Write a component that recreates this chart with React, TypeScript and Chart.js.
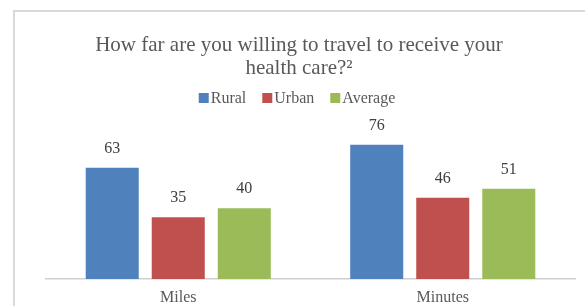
import React, { useEffect, useRef } from "react";
import { Chart, registerables } from "chart.js";

Chart.register(...registerables);

const categories = ["Miles", "Minutes"];
const seriesNames = ["Rural", "Urban", "Average"];
const rural = [63, 76];
const urban = [35, 46];
const average = [40, 51];
const titleLines = ["How far are you willing to travel to receive your", "health care?²"];

const colors = ["#4f81bd", "#c0504d", "#9bbb59"];
const FONT = "'Liberation Serif', 'Times New Roman', serif";
const TEXT = "#595959";

const framePlugin = {
  id: "frame",
  beforeDraw(chart: any) {
    const ctx = chart.ctx;
    ctx.save();
    ctx.fillStyle = "#ffffff";
    ctx.fillRect(0, 0, chart.width, chart.height);
    ctx.strokeStyle = "#d9d9d9";
    ctx.lineWidth = 2;
    ctx.strokeRect(14, 11, chart.width + 100, chart.height + 100);
    ctx.restore();
  },
};

const legendPlugin = {
  id: "customLegend",
  afterDraw(chart: any) {
    const ctx = chart.ctx;
    ctx.save();
    ctx.font = `16px ${FONT}`;
    const box = 10;
    const gapText = 2;
    const gapItem = 16;
    const items = chart.data.datasets.map((ds: any) => ({
      label: ds.label,
      color: ds.backgroundColor,
      w: ctx.measureText(ds.label).width,
    }));
    const total =
      items.reduce((s: number, it: any) => s + box + gapText + it.w, 0) + gapItem * (items.length - 1);
    let x = 297 - total / 2;
    const baseline = 103;
    ctx.textBaseline = "alphabetic";
    ctx.textAlign = "left";
    items.forEach((it: any) => {
      ctx.fillStyle = it.color;
      ctx.fillRect(x, baseline - box, box, box);
      x += box + gapText;
      ctx.fillStyle = TEXT;
      ctx.fillText(it.label, x, baseline);
      x += it.w + gapItem;
    });
    ctx.restore();
  },
};

const labelPlugin = {
  id: "valueLabels",
  afterDatasetsDraw(chart: any) {
    const ctx = chart.ctx;
    ctx.save();
    ctx.font = `16px ${FONT}`;
    ctx.fillStyle = "#404040";
    ctx.textAlign = "center";
    ctx.textBaseline = "alphabetic";
    chart.data.datasets.forEach((ds: any, i: number) => {
      const meta = chart.getDatasetMeta(i);
      meta.data.forEach((el: any, j: number) => {
        ctx.fillText(String(ds.data[j]), el.x, el.y - 15);
      });
    });
    ctx.restore();
  },
};

export default function App() {
  const ref = useRef<HTMLCanvasElement | null>(null);
  useEffect(() => {
    if (!ref.current) return;
    const data = [rural, urban, average];
    const chart = new Chart(ref.current, {
      type: "bar",
      data: {
        labels: categories,
        datasets: seriesNames.map((name, i) => ({
          label: name,
          data: data[i],
          backgroundColor: colors[i],
          categoryPercentage: 0.749,
          barPercentage: 0.803,
        })),
      },
      options: {
        responsive: false,
        animation: false,
        layout: { padding: { left: 13, right: 0, top: 0, bottom: 0 } },
        plugins: {
          title: {
            display: true,
            text: titleLines,
            color: TEXT,
            font: { family: FONT, size: 21, weight: "normal", lineHeight: 1.11 },
            padding: { top: 34, bottom: 34 },
          },
          legend: { display: false },
          tooltip: { enabled: false },
        },
        scales: {
          x: {
            grid: { display: false, drawTicks: false },
            border: { display: true, color: "#d0d0d0", width: 1.5 },
            ticks: { color: TEXT, font: { family: FONT, size: 16 }, padding: 9 },
            afterFit: (s: any) => {
              s.height = 27;
            },
          },
          y: {
            min: 0,
            max: 93,
            display: true,
            grid: { display: false },
            border: { display: false },
            ticks: { display: false },
            afterFit: (s: any) => {
              s.width = 33;
            },
          },
          y2: {
            position: "right",
            display: true,
            grid: { display: false },
            border: { display: false },
            ticks: { display: false },
            afterFit: (s: any) => {
              s.width = 10;
            },
          },
        },
      },
      plugins: [framePlugin, labelPlugin, legendPlugin],
    });
    return () => chart.destroy();
  }, []);
  return (
    <div style={{ position: "fixed", left: 0, top: 0, width: 585, height: 306 }}>
      <canvas ref={ref} width={585} height={306} />
    </div>
  );
}
